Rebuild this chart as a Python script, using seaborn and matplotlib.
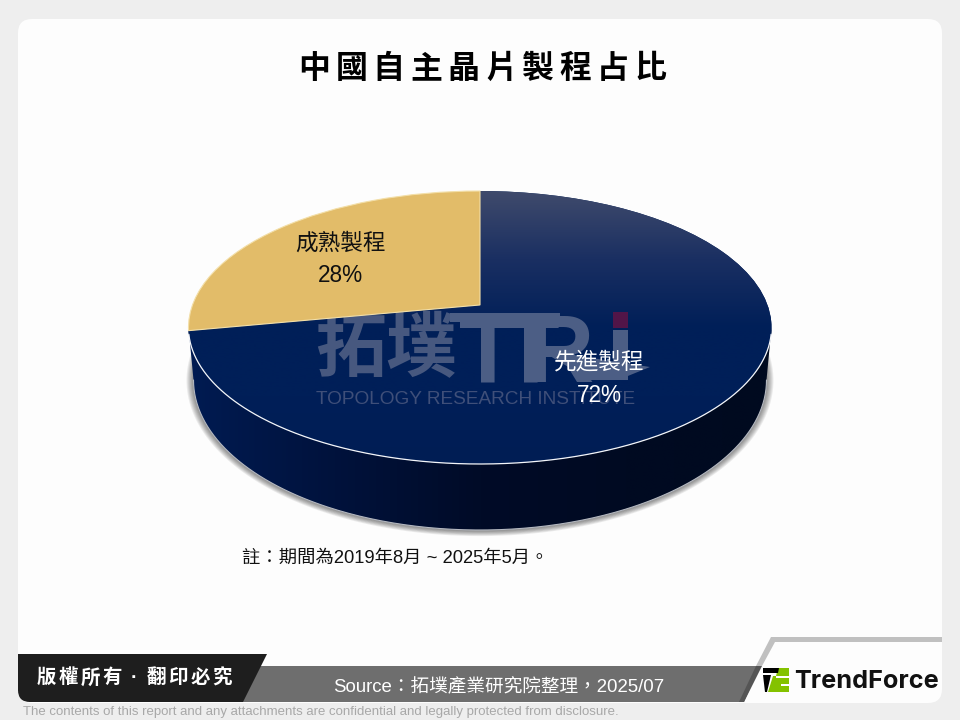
"""
plot.py - 3D style pie of China's self-developed chip process share.
"""

import numpy as np
import matplotlib
matplotlib.use("Agg")
import matplotlib.pyplot as plt
import seaborn as sns
from matplotlib.colors import LinearSegmentedColormap
from matplotlib.patches import FancyBboxPatch, Polygon
from matplotlib.transforms import Transform

# ---------------------------------------------------------------------------
# Data
# ---------------------------------------------------------------------------
PROCESS_NAMES = ["成熟製程", "先進製程"]
PROCESS_SHARES = [28, 72]
SLICE_COLORS = ["#e2bc69", "#001f58"]

TITLE = "中國自主晶片製程占比"
NOTE = "註：期間為2019年8月 ~ 2025年5月。"
SOURCE = "Source：拓墣產業研究院整理，2025/07"
COPYRIGHT = "版權所有·翻印必究"
DISCLAIMER = "The contents of this report and any attachments are confidential and legally protected from disclosure."

CJK = ["Liberation Sans", "Noto Sans CJK TC", "DejaVu Sans"]

# pie geometry on the 960x720 canvas
CX, CY = 480.0, 327.5
RX, RY = 291.5, 136.5
TILT = 0.165
DEPTH_CY, DEPTH_RX, DEPTH_RY = 380.0, 286.5, 150.0


class TiltedDisc(Transform):
    """Projective map of the unit disc onto the tilted ellipse on the canvas."""
    input_dims = 2
    output_dims = 2

    def transform_non_affine(self, values):
        u, v = np.asarray(values).T
        den = 1 + TILT * v
        xs = u * np.sqrt(1 - TILT ** 2) / den
        ys = (v + TILT) / den
        return np.column_stack([CX + RX * xs, CY - RY * ys])


def gradient(ax, colors, extent, clip, zorder, horizontal=False):
    cmap = LinearSegmentedColormap.from_list("grad", colors)
    ramp = np.linspace(0, 1, 256)
    ramp = ramp[None, :] if horizontal else ramp[:, None]
    im = ax.imshow(ramp, cmap=cmap, extent=extent, aspect="auto", zorder=zorder,
                   interpolation="bilinear", origin="upper")
    im.set_clip_path(clip)
    return im


def spaced(ax, text, x0, step, y, **kwargs):
    for i, ch in enumerate(text):
        ax.text(x0 + i * step, y, ch, ha="center", va="center", **kwargs)


sns.set_theme(style="white")
plt.rcParams["font.family"] = CJK

fig = plt.figure(figsize=(9.6, 7.2), dpi=100, facecolor="#eeeeee")
ax = fig.add_axes([0, 0, 1, 1])
ax.set_axis_off()

# ---- Pie top, drawn by pie() and pushed through the tilt ----
wedges, _ = ax.pie(PROCESS_SHARES, colors=SLICE_COLORS, startangle=90, radius=1,
                   wedgeprops=dict(linewidth=0))
ax.set_aspect("auto")
ax.set_xlim(0, 960)
ax.set_ylim(720, 0)
ax.set_axis_off()
disc = TiltedDisc() + ax.transData
for w in wedges:
    w.set_transform(disc)
wedges[0].set(zorder=6, edgecolor="#f3dfa8", linewidth=0.8)
wedges[1].set(zorder=4)

# ---- Panel ----
ax.add_patch(FancyBboxPatch((18, 19), 924, 684, boxstyle="round,pad=0,rounding_size=14",
                            facecolor="#fdfdfd", edgecolor="none", zorder=0))

# ---- Side wall and shadow ----
t = np.linspace(0, 2 * np.pi, 400)
for grow in np.arange(1, 8):
    ax.fill(CX + (DEPTH_RX + grow) * np.cos(t), DEPTH_CY + 0.5 + (DEPTH_RY + grow * 0.8) * np.sin(t),
            color="#000000", alpha=0.07, lw=0, zorder=1)
t = np.linspace(0, np.pi, 300)
wall_x = np.r_[CX + RX * np.cos(t), CX + DEPTH_RX * np.cos(t[::-1])]
wall_y = np.r_[CY + RY * np.sin(t), DEPTH_CY + DEPTH_RY * np.sin(t[::-1])]
wall = Polygon(np.column_stack([wall_x, wall_y]), closed=True, facecolor="none",
               edgecolor="none", zorder=2)
ax.add_patch(wall)
gradient(ax, ["#001b52", "#00123c", "#000b27", "#000a22", "#000a1f"],
         (188, 772, 531, 330), wall, 2, horizontal=True)
ax.plot(CX + DEPTH_RX * np.cos(t), DEPTH_CY + DEPTH_RY * np.sin(t), color="#b4b8c0", lw=0.8, zorder=3)

# top face of the big slice gets the fade at the back edge
gradient(ax, ["#404b6c", "#1a2f62", "#001f58", "#001f58", "#001d54"],
         (188, 772, 465, 190), wedges[1], 4.5)

# white rim along the front edge
t_rim = np.linspace(0.05, np.pi - 0.05, 300)
ax.plot(CX + RX * np.cos(t_rim), CY + RY * np.sin(t_rim), color="#f4f6fa", lw=0.9, zorder=5.5)

# ---- Watermark ----
MARK = "#4c5e85"
ax.text(386, 350, "拓墣", fontsize=51, fontweight="bold", color="#47587f", ha="center",
        va="center", family=["Noto Sans CJK TC"], zorder=5)
for letter, x in zip("TTR", [488, 531, 560]):
    ax.text(x, 382, letter, fontsize=68, fontweight="bold", color=MARK, ha="center",
            va="baseline", family=["Liberation Sans"], zorder=5)
ax.add_patch(Polygon([(450, 313), (560, 313), (560, 322), (450, 322)], facecolor=MARK,
                     edgecolor="none", zorder=5))
ax.add_patch(Polygon([(613, 330), (628, 330), (628, 380), (613, 380)], facecolor=MARK,
                     edgecolor="none", zorder=5))
ax.add_patch(Polygon([(540, 350), (650, 367), (618, 380), (590, 380)], facecolor=MARK,
                     edgecolor="none", zorder=5))
ax.add_patch(Polygon([(613, 312), (628, 312), (628, 328), (613, 328)], facecolor="#521548",
                     edgecolor="none", zorder=5))
ax.text(316, 400, "TOPOLOGY RESEARCH INSTITUTE", fontsize=13.7, color="#3f4f79", ha="left",
        va="center", family=["Liberation Sans"], zorder=5)

# ---- Slice labels ----
ax.text(340, 243, PROCESS_NAMES[0], fontsize=16.3, color="#111111", ha="center", va="center", zorder=8)
ax.text(340, 275, f"{PROCESS_SHARES[0]}%", fontsize=16.3, color="#111111", ha="center", va="center", zorder=8)
ax.text(599, 362.5, PROCESS_NAMES[1], fontsize=16.3, color="white", ha="center", va="center", zorder=8)
ax.text(599, 395, f"{PROCESS_SHARES[1]}%", fontsize=16.3, color="white", ha="center", va="center", zorder=8)

# ---- Title and note ----
spaced(ax, TITLE, 314, 37.4, 70, fontsize=23, fontweight="bold", color="black", zorder=8)
ax.text(242, 558, NOTE, fontsize=13.2, color="#111111", ha="left", va="center", zorder=8)

# ---- Footer ----
ax.add_patch(Polygon([(30, 666), (760, 666), (744, 702), (30, 702)], facecolor="#6e6e6e",
                     edgecolor="none", zorder=3))
ax.add_patch(Polygon([(756, 666), (771, 637), (942, 637), (942, 642), (775, 642), (762, 666)],
                     facecolor="#c0c0c0", edgecolor="none", zorder=3))
ax.add_patch(Polygon([(756, 666), (762, 666), (744, 702), (739, 702)], facecolor="#555555",
                     edgecolor="none", zorder=3.5))
ax.add_patch(FancyBboxPatch((18, 654), 60, 48, boxstyle="round,pad=0,rounding_size=12",
                            facecolor="#1e1e1e", edgecolor="none", zorder=3))
ax.add_patch(Polygon([(18, 654), (267, 654), (243, 702), (30, 702), (18, 690)], facecolor="#1e1e1e",
                     edgecolor="none", zorder=3))
spaced(ax, COPYRIGHT, 46, 22, 678, fontsize=14, fontweight="bold", color="white", zorder=8)
ax.text(333, 687, SOURCE, fontsize=13.4, color="white", ha="left", va="center", zorder=8)
ax.text(23, 712, DISCLAIMER, fontsize=9.55, color="#a8a8a8", ha="left",
        va="center", family=["Liberation Sans"], zorder=8)

# ---- Logo ----
ax.add_patch(Polygon([(763, 668), (779, 668), (778, 673), (763, 673)], facecolor="black",
                     edgecolor="none", zorder=8))
ax.add_patch(Polygon([(763, 675), (771, 675), (767, 692), (765, 692)], facecolor="black",
                     edgecolor="none", zorder=8))
ax.add_patch(Polygon([(778, 668), (789, 668), (789, 692), (768, 692), (773, 676), (776, 676)],
                     facecolor="#84c200", edgecolor="none", zorder=7))
ax.add_patch(Polygon([(776, 676), (789, 676), (789, 678), (776, 678)], facecolor="white",
                     edgecolor="none", zorder=8))
ax.add_patch(Polygon([(781, 684), (789, 684), (789, 686), (781, 686)], facecolor="white",
                     edgecolor="none", zorder=8))
ax.text(794, 682, "TrendForce", fontsize=18.2, fontweight="bold", color="#111111", ha="left",
        va="center", family=["Inter"], zorder=8)

fig.savefig("out.png", dpi=100, facecolor=fig.get_facecolor())
